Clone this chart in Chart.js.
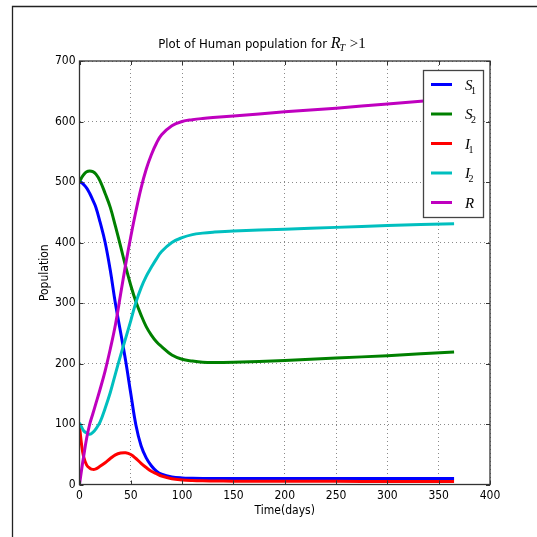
<!DOCTYPE html>
<html>
<head>
<meta charset="utf-8">
<script src="https://cdn.jsdelivr.net/npm/chart.js@4.4.0/dist/chart.umd.min.js"></script>
<style>
  html, body { margin: 0; padding: 0; background: #fff; }
  #wrap { width: 537px; height: 537px; }
</style>
</head>
<body>
<div id="wrap"><canvas id="popChart" width="537" height="537"></canvas></div>
<script>
// time in days
const days = [0, 2, 4, 7, 10, 13, 16, 20, 25, 30, 35, 40, 45, 50, 55, 60, 65, 70, 75, 80, 90, 100, 110, 120, 130, 150, 200, 250, 300, 365];

const s1 = [500, 499, 496, 490, 481, 470, 458, 434, 400, 354, 299, 252, 204, 150, 98, 64, 44, 31, 22, 17, 12.5, 10.8, 10.3, 10, 10, 10, 10, 10, 10, 10];
const s2 = [500, 507, 512, 517, 518, 517, 513, 502, 481, 458, 427, 394, 360, 329, 302, 280, 261, 247, 236, 228, 214, 207, 204, 202, 201.5, 202, 205, 209, 213, 219];
const i1 = [97, 66, 46, 32, 27, 25, 26, 30, 36, 43, 49, 52, 52.5, 49.5, 43, 35, 28, 22, 18, 14, 9.5, 7.5, 6.5, 6, 5.8, 5.5, 5.3, 5.2, 5.1, 5];
const i2 = [102, 95, 89, 85, 83, 86, 92, 103, 126, 152, 183, 213, 242, 271, 301, 325, 344, 359, 373, 385, 400, 408, 413, 415.5, 417, 419, 422, 425, 428, 431];
const rec = [0, 24, 46, 77, 100, 117, 134, 157, 188, 224, 264, 314, 364, 410, 452, 490, 521, 545, 564, 578, 593, 600, 603, 605, 606.5, 609, 616, 622, 629, 638];

const seriesLabels = ["S_1", "S_2", "I_1", "I_2", "R"];
const seriesColors = ["#0000ff", "#008000", "#ff0000", "#00bfbf", "#bf00bf"];

const titleText = "Plot of Human population for ";
const titleMath = { base: "R", sub: "T", rest: " >1" };
const xLabel = "Time(days)";
const yLabel = "Population";

const sans = "'DejaVu Sans Condensed', 'DejaVu Sans', sans-serif";
const serif = "'Liberation Serif', 'DejaVu Serif', serif";

const toPoints = (vals) => vals.map((v, i) => ({ x: days[i], y: v }));

const datasets = [s1, s2, i1, i2, rec].map((vals, i) => ({
  label: seriesLabels[i],
  data: toPoints(vals),
  borderColor: seriesColors[i],
  backgroundColor: seriesColors[i],
  borderWidth: 3,
  pointRadius: 0,
  fill: false,
  tension: 0.4,
  order: 5 - i, // matplotlib draws the last series on top
}));

// frame, axes box, inward ticks, title and legend like the original figure
const mplLook = {
  id: "mplLook",
  beforeDraw(chart) {
    const ctx = chart.ctx;
    ctx.save();
    ctx.fillStyle = "#fff";
    ctx.fillRect(0, 0, chart.width, chart.height);
    ctx.strokeStyle = "#222";
    ctx.lineWidth = 1.3;
    ctx.beginPath();
    ctx.moveTo(12.5, chart.height);
    ctx.lineTo(12.5, 6.5);
    ctx.lineTo(chart.width, 6.5);
    ctx.stroke();
    ctx.restore();
  },
  afterDatasetsDraw(chart) {
    const ctx = chart.ctx;
    const ca = chart.chartArea;
    const xs = chart.scales.x;
    const ys = chart.scales.y;
    ctx.save();
    ctx.strokeStyle = "#333";
    ctx.lineWidth = 1;
    xs.ticks.forEach((t) => {
      const px = Math.round(xs.getPixelForValue(t.value)) + 0.5;
      ctx.beginPath();
      ctx.moveTo(px, ca.bottom); ctx.lineTo(px, ca.bottom - 4);
      ctx.moveTo(px, ca.top); ctx.lineTo(px, ca.top + 4);
      ctx.stroke();
    });
    ys.ticks.forEach((t) => {
      const py = Math.round(ys.getPixelForValue(t.value)) + 0.5;
      ctx.beginPath();
      ctx.moveTo(ca.left, py); ctx.lineTo(ca.left + 4, py);
      ctx.moveTo(ca.right, py); ctx.lineTo(ca.right - 4, py);
      ctx.stroke();
    });
    ctx.lineWidth = 1.3;
    ctx.strokeRect(ca.left, ca.top, ca.right - ca.left, ca.bottom - ca.top);
    ctx.restore();
  },
  afterDraw(chart) {
    const ctx = chart.ctx;
    const ca = chart.chartArea;
    ctx.save();

    // title: plain text then the math part
    ctx.textBaseline = "alphabetic";
    ctx.fillStyle = "#000";
    const fPlain = "13px " + sans;
    const fMath = "italic 16px " + serif;
    const fSub = "italic 10px " + serif;
    const fRest = "15px " + serif;
    ctx.font = fPlain; const w1 = ctx.measureText(titleText).width;
    ctx.font = fMath; const w2 = ctx.measureText(titleMath.base).width;
    ctx.font = fSub; const w3 = ctx.measureText(titleMath.sub).width;
    ctx.font = fRest; const w4 = ctx.measureText(titleMath.rest).width;
    let tx = 262 - (w1 + w2 + w3 + w4) / 2;
    const ty = 48;
    ctx.font = fPlain; ctx.fillText(titleText, tx, ty); tx += w1;
    ctx.font = fMath; ctx.fillText(titleMath.base, tx, ty); tx += w2;
    ctx.font = fSub; ctx.fillText(titleMath.sub, tx - 1, ty + 3); tx += w3;
    ctx.font = fRest; ctx.fillText(titleMath.rest, tx, ty);

    // legend box in the upper right corner
    const bw = 60, bh = 147;
    const bx = ca.right - 7 - bw;
    const by = ca.top + 9;
    ctx.fillStyle = "#fff";
    ctx.fillRect(bx, by, bw, bh);
    ctx.strokeStyle = "#444";
    ctx.lineWidth = 1.3;
    ctx.strokeRect(bx + 0.5, by + 0.5, bw, bh);
    chart.data.datasets.forEach((ds, i) => {
      const ry = by + 14.5 + i * 29.5;
      ctx.strokeStyle = ds.borderColor;
      ctx.lineWidth = 3;
      ctx.beginPath();
      ctx.moveTo(bx + 8, ry); ctx.lineTo(bx + 29, ry);
      ctx.stroke();
      const [base, sub] = ds.label.split("_");
      ctx.fillStyle = "#000";
      ctx.font = "italic 15px " + serif;
      ctx.fillText(base, bx + 42, ry + 5);
      if (sub) {
        const bwid = ctx.measureText(base).width;
        ctx.font = "10px " + serif;
        ctx.fillText(sub, bx + 42 + bwid - 1.5, ry + 9);
      }
    });
    ctx.restore();
  },
};

new Chart(document.getElementById("popChart"), {
  type: "line",
  data: { datasets },
  options: {
    responsive: false,
    devicePixelRatio: 1,
    animation: false,
    layout: { padding: { left: 0, right: 47, top: 61, bottom: 0 } },
    plugins: {
      legend: { display: false },
      title: { display: false },
      tooltip: { enabled: false },
    },
    scales: {
      x: {
        type: "linear",
        min: 0,
        max: 400,
        afterFit: (scale) => { scale.height = 52.5; },
        ticks: { stepSize: 50, color: "#000", padding: 4, font: { family: sans, size: 12 }, maxRotation: 0 },
        grid: { color: "#8a8a8a", lineWidth: 1, drawTicks: false },
        border: { display: false, dash: [1, 3] },
        title: { display: true, text: xLabel, color: "#000", font: { family: sans, size: 12 }, padding: { top: 0, bottom: 19 } },
      },
      y: {
        type: "linear",
        min: 0,
        max: 700,
        afterFit: (scale) => { scale.width = 79.5; },
        ticks: { stepSize: 100, color: "#000", padding: 4, font: { family: sans, size: 12 } },
        grid: { color: "#8a8a8a", lineWidth: 1, drawTicks: false },
        border: { display: false, dash: [1, 3] },
        title: { display: true, text: yLabel, color: "#000", font: { family: sans, size: 12 }, padding: { top: 38, bottom: 0 } },
      },
    },
  },
  plugins: [mplLook],
});
</script>
</body>
</html>
